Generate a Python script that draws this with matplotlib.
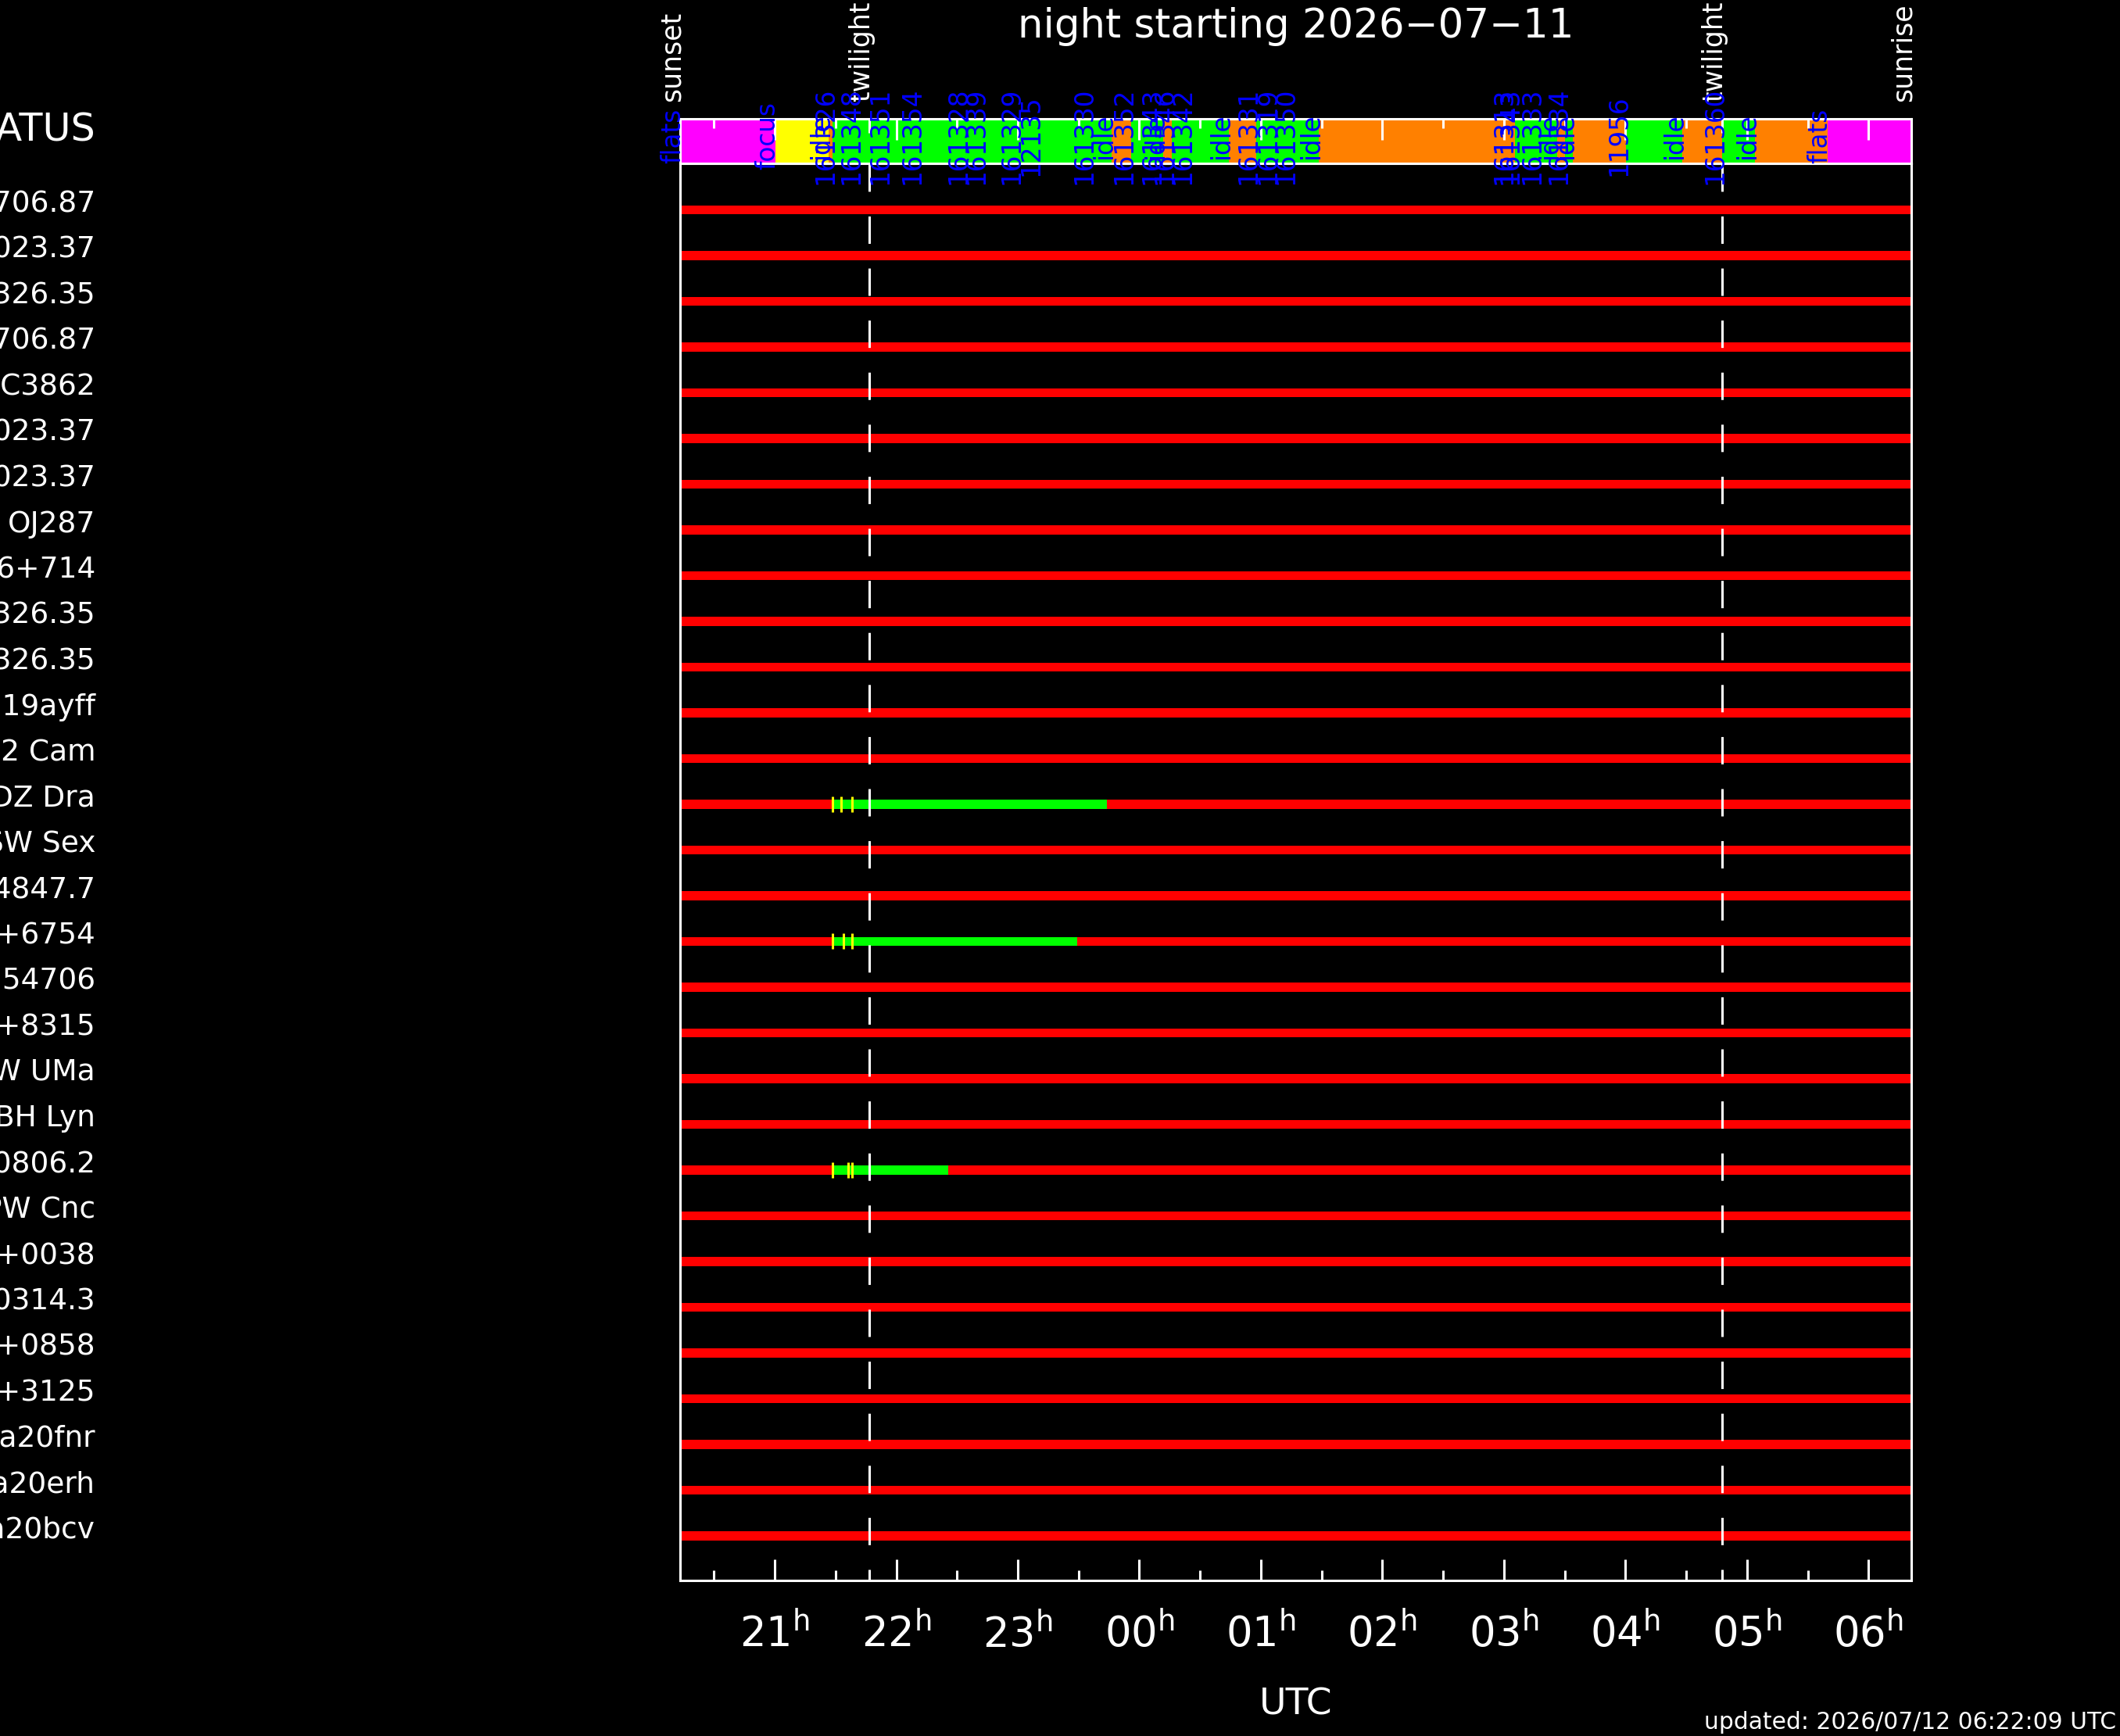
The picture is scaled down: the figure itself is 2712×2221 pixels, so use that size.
import matplotlib
matplotlib.use("Agg")
import matplotlib.pyplot as plt
import matplotlib.transforms as mtransforms

plt.rcParams["font.family"] = ["DejaVu Sans"]
plt.rcParams["mathtext.default"] = "regular"
plt.rcParams["lines.scale_dashes"] = False

# ── data (times in hours UTC from 0h of 2026-07-11, so 01h next day = 25) ─────
sunset = 20.221
sunrise = 30.352
twilight = [21.78, 28.797]

targets = ["HS 1706.87", "HS 1023.37", "HS 1326.35", "HS 1706.87", "NGC3862",
           "HS 1023.37", "HS 1023.37", "OJ287", "S5 0716+714", "HS 1326.35",
           "HS 1326.35", "AT 19ayff", "V452 Cam", "DZ Dra", "SW Sex",
           "RX J4847.7", "SBS 1234+6754", "HD 54706", "SBS 1234+8315", "SW UMa",
           "BH Lyn", "RX J0806.2", "PW Cnc", "SDSS J1234+0038", "RX J0314.3",
           "PG 1234+0858", "PG 1234+3125", "Gaia20fnr", "Gaia20erh", "Gaia20bcv"]

status_starts = [20.221, 21.004, 21.443, 21.475, 23.770, 23.934, 24.198, 24.267,
                 24.735, 24.960, 25.474, 27.093, 27.436, 27.500, 27.565, 28.004,
                 28.465, 28.797, 29.065, 29.662]
status_kinds = ["flats", "focus", "idle", "obs", "idle", "obs", "idle", "obs",
                "idle", "obs", "idle", "obs", "idle", "obs", "idle", "obs",
                "idle", "obs", "idle", "flats"]
kind_colors = {"flats": "#ff00ff", "focus": "#ffff00",
               "idle": "#ff8000", "obs": "#00ff00"}

status_labels = ["flats", "focus", "idle", "161326", "161348", "161351", "161354",
                 "161328", "161339", "161329", "12135", "161330", "idle", "161352",
                 "161343", "idle", "161346", "161342", "idle", "161331", "161319",
                 "161350", "idle", "161313", "161343", "161333", "idle", "161334",
                 "idle", "11956", "idle", "161360", "idle", "flats"]
status_label_times = [20.221, 21.004, 21.443, 21.475, 21.69, 21.93, 22.19,
                      22.57, 22.72, 23.01, 23.17, 23.61, 23.77, 23.934,
                      24.17, 24.198, 24.267, 24.42, 24.735, 24.96, 25.12,
                      25.27, 25.474, 27.06, 27.11, 27.29, 27.436, 27.51,
                      27.565, 28.004, 28.465, 28.797, 29.065, 29.662]

obs_rows = [13, 16, 21]
obs_start = [21.474, 21.474, 21.474]
obs_end = [23.734, 23.49, 22.43]
exp_ticks = [[21.474, 21.543, 21.637],
             [21.474, 21.567, 21.637],
             [21.474, 21.606, 21.637]]

hour_ticks = list(range(21, 31))
half_ticks = [h + 0.5 for h in range(20, 30)]

# ── figure ────────────────────────────────────────────────────────────────────
W, H = 2712, 2221
fig = plt.figure(figsize=(W / 100, H / 100), dpi=100, facecolor="black")
left, right = 870 / W, 2445 / W
ax = fig.add_axes([left, 1 - 2021.7 / H, right - left, (2021.7 - 209) / H])
ax_st = fig.add_axes([left, 1 - 209 / H, right - left, (209 - 151.7) / H])
ax.set_zorder(1)
ax_st.set_zorder(3)

for a in (ax_st, ax):
    a.set_facecolor("black")
    a.set_xlim(sunset, sunrise)
    for sp in a.spines.values():
        sp.set_color("white")
        sp.set_linewidth(2.2)
    a.set_yticks([])
    a.set_xticks(hour_ticks)
    a.set_xticks(half_ticks, minor=True)

# status bar
ends = status_starts[1:] + [sunrise]
for s, e, k in zip(status_starts, ends, status_kinds):
    ax_st.barh(0.5, e - s, left=s, height=1.0, color=kind_colors[k], lw=0, zorder=1)
ax_st.set_ylim(0, 1)
ax_st.xaxis.tick_top()
ax_st.tick_params(which="major", direction="in", length=19.4, width=2.2,
                  color="white", labeltop=False, labelbottom=False)
ax_st.tick_params(which="minor", direction="in", length=8.6, width=2.2,
                  color="white", labeltop=False, labelbottom=False)
ax_st.vlines(twilight, 1 - 18 / 57.3, 1, color="white", lw=2.2, zorder=5)

for txt, t in zip(status_labels, status_label_times):
    ax_st.text(t, 0.62, txt, color="#0000ff", fontsize=23.5, rotation=90,
               rotation_mode="anchor", ha="center", va="baseline",
               clip_on=False, zorder=6)

# event labels above status bar
ev_tr = mtransforms.blended_transform_factory(ax_st.transData, fig.transFigure)
for txt, t in zip(["sunset", "twilight", "twilight", "sunrise"],
                  [sunset, twilight[0], twilight[1], sunrise]):
    ax_st.text(t, 1 - 130 / H, txt, transform=ev_tr, color="white", fontsize=25,
               rotation=90, rotation_mode="anchor", ha="left", va="baseline",
               clip_on=False)

# main plot: one bar per target
rows = list(range(len(targets)))
ax.set_ylim(29.973, -1.014)
ax.barh(rows, sunrise - sunset, left=sunset, height=0.197, color="#ff0000",
        lw=0, zorder=2)
for r, s, e, ticks in zip(obs_rows, obs_start, obs_end, exp_ticks):
    ax.barh(r, e - s, left=s, height=0.197, color="#00ff00", lw=0, zorder=3)
    ax.vlines(ticks, r - 0.17, r + 0.17, color="#ffff00", lw=2.2, zorder=4)

for t in twilight:
    ax.axvline(t, color="white", lw=2.2, linestyle=(15.1, (25.2, 22.75)), zorder=5)

ax.tick_params(which="major", direction="in", length=19.4, width=2.2,
               color="white", labelbottom=False, top=False)
ax.tick_params(which="minor", direction="in", length=9.4, width=2.2,
               color="white", labelbottom=False, top=False)

lab_tr = mtransforms.blended_transform_factory(ax.transData, fig.transFigure)
for h in hour_ticks:
    ax.text(h, 1 - 2107 / H, f"{h % 24:02d}" + r"$^{h}$", transform=lab_tr,
            color="white", fontsize=38, ha="center", va="baseline")

# target names on the left (they run past the left edge, as in the original)
name_tr = mtransforms.blended_transform_factory(fig.transFigure, ax.transData)
for r, name in zip(rows, targets):
    ax.text(122 / W, r + 0.05, name, transform=name_tr, color="white",
            fontsize=27, ha="right", va="baseline", clip_on=False)
st_tr = mtransforms.blended_transform_factory(fig.transFigure, ax_st.transAxes)
ax_st.text(122 / W, 0.5, "STATUS", transform=st_tr, color="white", fontsize=35.5,
           ha="right", va="baseline", clip_on=False)

fig.text(1657.5 / W, 1 - 48 / H, "night starting 2026\u221207\u221211",
         color="white", fontsize=37, ha="center", va="baseline")
fig.text(1657.5 / W, 1 - 2193 / H, "UTC", color="white", fontsize=34,
         ha="center", va="baseline")
fig.text(2707 / W, 1 - 2212 / H, "updated: 2026/07/12 06:22:09 UTC",
         color="white", fontsize=21.4, ha="right", va="baseline")

fig.savefig("out.png", dpi=100, facecolor="black")
